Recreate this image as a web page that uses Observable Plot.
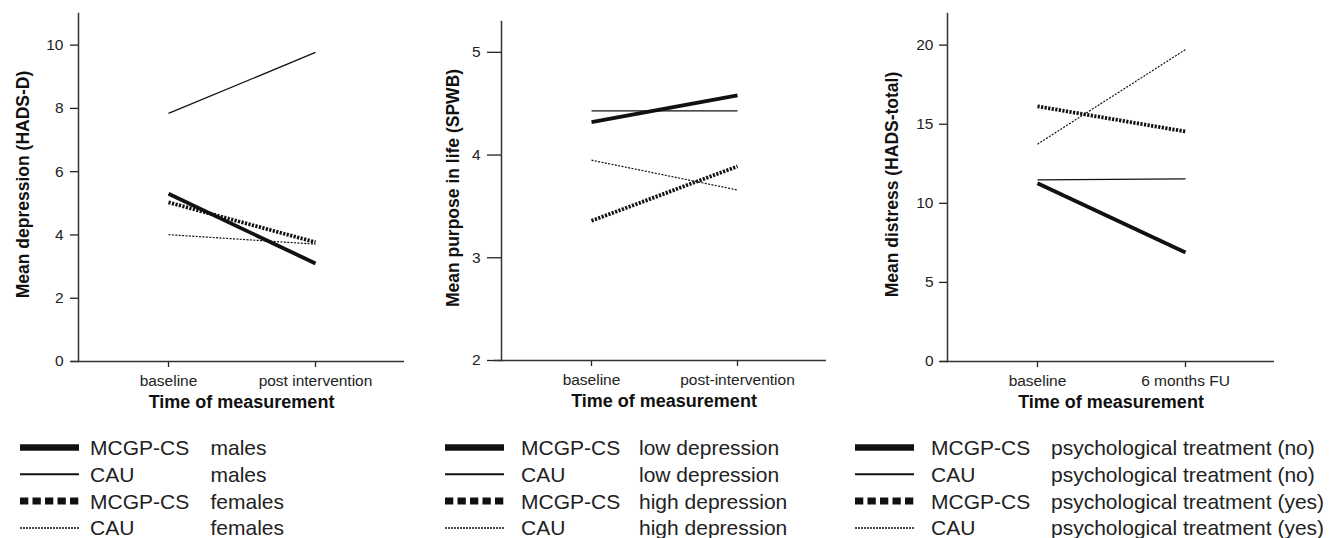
<!DOCTYPE html>
<html><head><meta charset="utf-8">
<script src="https://cdn.jsdelivr.net/npm/d3@7"></script>
<script src="https://cdn.jsdelivr.net/npm/@observablehq/plot@0.6"></script>
<style>
body{margin:0;background:#fff;font-family:"Liberation Sans",Arial,sans-serif;}
#wrap{position:relative;width:1331px;height:538px;overflow:hidden;}
.panel{position:absolute;top:0;}
#legend{position:absolute;left:0;top:415px;}
</style></head><body><div id="wrap"></div>
<script>
// ---- data ----
const groupNames = ["MCGP-CS", "CAU", "MCGP-CS", "CAU"];

const p1Times = ["baseline", "post intervention"];
const p1Subgroups = ["males", "males", "females", "females"];
const p1Baseline = [5.30, 7.84, 5.03, 4.01];
const p1Post = [3.10, 9.77, 3.77, 3.71];
const p1YTicks = [0, 2, 4, 6, 8, 10];
const p1YLabel = "Mean depression (HADS-D)";

const p2Times = ["baseline", "post-intervention"];
const p2Subgroups = ["low depression", "low depression", "high depression", "high depression"];
const p2Baseline = [4.32, 4.43, 3.36, 3.95];
const p2Post = [4.58, 4.43, 3.89, 3.66];
const p2YTicks = [2, 3, 4, 5];
const p2YLabel = "Mean purpose in life (SPWB)";

const p3Times = ["baseline", "6 months FU"];
const p3Subgroups = ["psychological treatment (no)", "psychological treatment (no)", "psychological treatment (yes)", "psychological treatment (yes)"];
const p3Baseline = [11.27, 11.48, 16.13, 13.74];
const p3Post = [6.89, 11.54, 14.54, 19.72];
const p3YTicks = [0, 5, 10, 15, 20];
const p3YLabel = "Mean distress (HADS-total)";

const xTitle = "Time of measurement";

// ---- styles ----
const lineStyles = [
  {strokeWidth: 3.8},
  {strokeWidth: 1.3},
  {strokeWidth: 3.8, strokeDasharray: "2.2,1.4"},
  {strokeWidth: 1.2, strokeDasharray: "2,1.4"}
];
const legendStyles = [
  {w: 6.5},
  {w: 2},
  {w: 7, dash: "8.3,4.2"},
  {w: 1.5, dash: "2,1"}
];

const wrap = document.getElementById("wrap");

function panel(cfg) {
  const rows = [];
  cfg.base.forEach((v, i) => {
    rows.push({s: i, t: cfg.times[0], v: v});
    rows.push({s: i, t: cfg.times[1], v: cfg.post[i]});
  });
  const lines = lineStyles.map((st, i) =>
    Plot.line(rows.filter(d => d.s === i), {
      x: "t", y: "v", stroke: "#111", strokeLinecap: "butt", ...st
    }));
  const chart = Plot.plot({
    width: cfg.width, height: 415,
    marginLeft: cfg.mL, marginRight: cfg.mR, marginTop: cfg.mT, marginBottom: 415 - cfg.axisY,
    style: {fontFamily: '"Liberation Sans", Arial, sans-serif', fontSize: "15.5px", color: "#222", background: "#fff", overflow: "visible"},
    x: {type: "point", domain: cfg.times, padding: 0, insetLeft: 90, insetRight: 89},
    y: {domain: cfg.yDomain},
    marks: [
      Plot.axisY({ticks: cfg.yTicks, tickFormat: d => String(d), tickSize: cfg.tickSize, tickPadding: cfg.tickPad, fontSize: 15.5, label: null, strokeWidth: 1.3}),
      Plot.axisX({tickSize: 6, tickPadding: 7, fontSize: 15.5, label: null, strokeWidth: 1.3}),
      Plot.frame({anchor: "left", stroke: "#333", strokeWidth: 1.5}),
      Plot.ruleY([cfg.yDomain[0]], {insetLeft: -7, stroke: "#333", strokeWidth: 1.5}),
      ...lines,
      Plot.text([cfg.ylabel], {frameAnchor: "left", textAnchor: "middle", lineAnchor: "middle", dx: cfg.labelDx, dy: -3, rotate: -90, fontWeight: "bold", fontSize: 17.5, fill: "#111"}),
      Plot.text([xTitle], {frameAnchor: "bottom", textAnchor: "middle", lineAnchor: "middle", dy: 41, fontWeight: "bold", fontSize: 18, fill: "#111"})
    ]
  });
  const div = document.createElement("div");
  div.className = "panel";
  div.style.left = cfg.left + "px";
  div.appendChild(chart);
  wrap.appendChild(div);
}

panel({left: 0, width: 420, mL: 78, mR: 16, mT: 13, axisY: 361, yDomain: [0, 11], yTicks: p1YTicks,
  times: p1Times, base: p1Baseline, post: p1Post, ylabel: p1YLabel, labelDx: -55.5, tickSize: 8, tickPad: 7});
panel({left: 430, width: 410, mL: 71, mR: 14, mT: 21, axisY: 360, yDomain: [2, 5.3], yTicks: p2YTicks,
  times: p2Times, base: p2Baseline, post: p2Post, ylabel: p2YLabel, labelDx: -48.5, tickSize: 14, tickPad: 7});
panel({left: 870, width: 461, mL: 77, mR: 57, mT: 13, axisY: 361, yDomain: [0, 22], yTicks: p3YTicks,
  times: p3Times, base: p3Baseline, post: p3Post, ylabel: p3YLabel, labelDx: -55, tickSize: 8, tickPad: 6});

// ---- legend ----
const legendLayout = [
  {s1: 20, s2: 79, t1: 90, t2: 210.5, sub: p1Subgroups},
  {s1: 445, s2: 504, t1: 521, t2: 639, sub: p2Subgroups},
  {s1: 855, s2: 914, t1: 931, t2: 1051, sub: p3Subgroups}
];
const svg = d3.select("#wrap").append("svg").attr("id", "legend")
  .attr("width", 1331).attr("height", 123)
  .style("font-family", '"Liberation Sans", Arial, sans-serif');
legendLayout.forEach(L => {
  groupNames.forEach((g, i) => {
    const cy = 32.5 + i * 26.8;
    const st = legendStyles[i];
    svg.append("line").attr("x1", L.s1).attr("x2", L.s2).attr("y1", cy).attr("y2", cy)
      .attr("stroke", "#111").attr("stroke-width", st.w)
      .attr("stroke-dasharray", st.dash || null);
    svg.append("text").attr("x", L.t1).attr("y", cy + 7.5).attr("font-size", 21).attr("fill", "#222").text(g);
    svg.append("text").attr("x", L.t2).attr("y", cy + 7.5).attr("font-size", 21).attr("fill", "#222").text(L.sub[i]);
  });
});
</script></body></html>
